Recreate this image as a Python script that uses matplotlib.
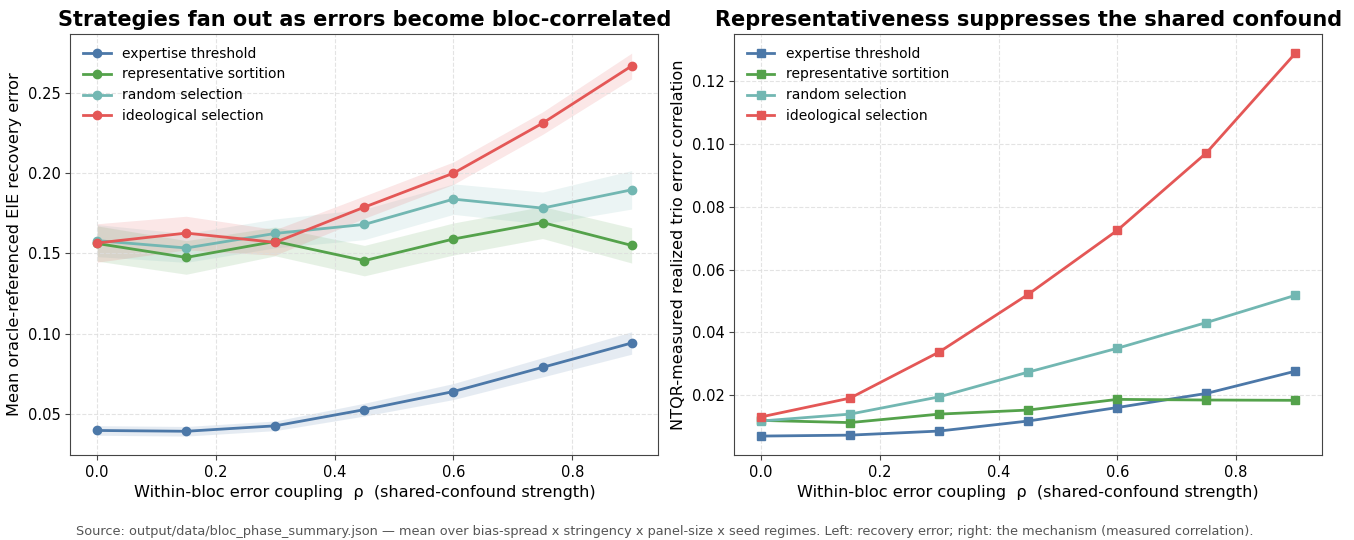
import numpy as np
import matplotlib.pyplot as plt

rho = [0.0, 0.15, 0.3, 0.45, 0.6, 0.75, 0.9]
strategies = ["expertise threshold", "representative sortition",
              "random selection", "ideological selection"]
colors = ["#4c78a8", "#54a24b", "#72b7b2", "#e45756"]

# mean recovery error per strategy, with spread for the shaded band
err_expertise = [0.0395, 0.0390, 0.0424, 0.0525, 0.0638, 0.0789, 0.0941]
err_sortition = [0.1562, 0.1475, 0.1575, 0.1455, 0.1590, 0.1693, 0.1550]
err_random = [0.1580, 0.1534, 0.1625, 0.1681, 0.1839, 0.1783, 0.1897]
err_ideological = [0.1565, 0.1627, 0.1569, 0.1789, 0.2001, 0.2313, 0.2670]

band_expertise = [0.003, 0.003, 0.003, 0.004, 0.005, 0.006, 0.007]
band_sortition = [0.011, 0.0105, 0.009, 0.0095, 0.010, 0.010, 0.011]
band_random = [0.010, 0.009, 0.009, 0.0095, 0.0095, 0.010, 0.012]
band_ideological = [0.012, 0.0105, 0.008, 0.007, 0.007, 0.007, 0.008]

# measured trio error correlation
corr_expertise = [0.0069, 0.0072, 0.0085, 0.0117, 0.0160, 0.0205, 0.0276]
corr_sortition = [0.0119, 0.0112, 0.0139, 0.0152, 0.0186, 0.0184, 0.0183]
corr_random = [0.0117, 0.0139, 0.0194, 0.0273, 0.0349, 0.0431, 0.0518]
corr_ideological = [0.0130, 0.0190, 0.0337, 0.0521, 0.0725, 0.0972, 0.1290]

errors = [err_expertise, err_sortition, err_random, err_ideological]
bands = [band_expertise, band_sortition, band_random, band_ideological]
corrs = [corr_expertise, corr_sortition, corr_random, corr_ideological]

plt.rcParams['font.family'] = 'DejaVu Sans'

fig, (ax1, ax2) = plt.subplots(1, 2, figsize=(13.54, 5.4), dpi=100)
fig.subplots_adjust(left=0.052, right=0.9765, top=0.937, bottom=0.157, wspace=0.129)

for name, c, e, b in zip(strategies, colors, errors, bands):
    e = np.array(e)
    b = np.array(b)
    ax1.fill_between(rho, e - b, e + b, color=c, alpha=0.14, linewidth=0)
    ax1.plot(rho, e, '-o', color=c, lw=2, ms=6, label=name)

for name, c, r in zip(strategies, colors, corrs):
    ax2.plot(rho, r, '-s', color=c, lw=2, ms=6, label=name)

ax1.set_title("Strategies fan out as errors become bloc-correlated",
              fontsize=15, fontweight='bold')
ax1.set_ylabel("Mean oracle-referenced EIE recovery error", fontsize=11.6)
ax2.set_title("Representativeness suppresses the shared confound",
              fontsize=15, fontweight='bold')
ax2.set_ylabel("NTQR-measured realized trio error correlation", fontsize=11.6)

for ax in (ax1, ax2):
    ax.set_xlabel("Within-bloc error coupling  ρ  (shared-confound strength)", fontsize=11.6)
    ax.grid(True, ls='--', color='#dddddd', lw=0.8, alpha=0.8)
    ax.tick_params(labelsize=10.5, color='#444444')
    for s in ax.spines.values():
        s.set_color('#444444')
    ax.legend(loc='upper left', frameon=False, fontsize=10)

fig.text(0.491, 0.009,
         "Source: output/data/bloc_phase_summary.json — mean over bias-spread x stringency "
         "x panel-size x seed regimes. Left: recovery error; right: the mechanism (measured correlation).",
         ha='center', fontsize=9.25, color='#555555')

fig.savefig("out.png", dpi=100)
